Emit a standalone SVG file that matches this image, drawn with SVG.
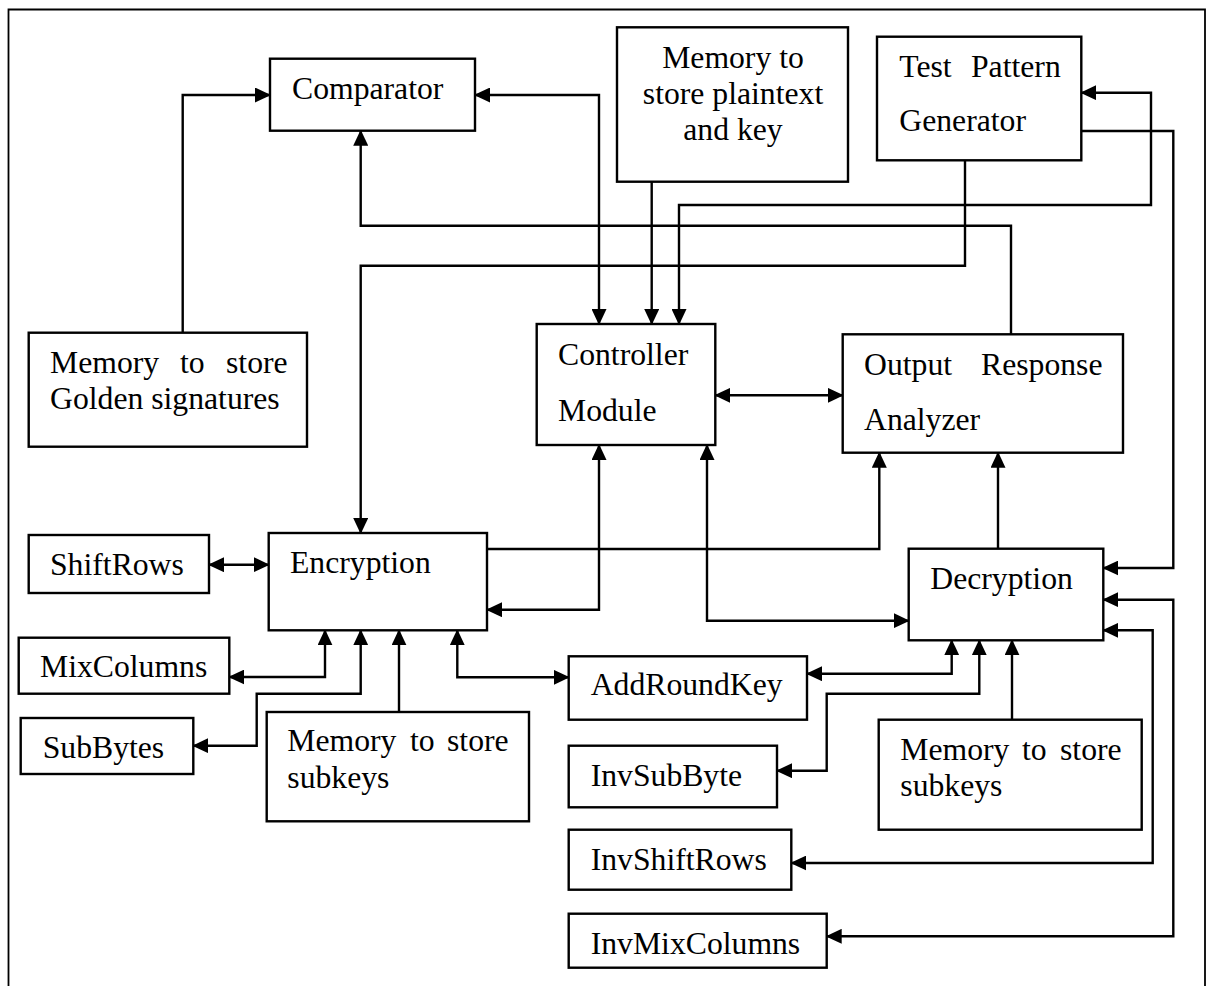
<svg xmlns="http://www.w3.org/2000/svg" width="1209" height="986" viewBox="0 0 1209 986">
<style>
.box{fill:#fff;stroke:#000;stroke-width:2.4}
.t{font-family:"Liberation Serif","Times New Roman",serif;font-size:31.7px;fill:#000}
.c{fill:none;stroke:#000;stroke-width:2.4}
.e{marker-end:url(#a)}
.b{marker-start:url(#a);marker-end:url(#a)}
</style>
<defs>
<marker id="a" viewBox="0 0 16 15" refX="15" refY="7.5" markerWidth="16" markerHeight="15" markerUnits="userSpaceOnUse" orient="auto-start-reverse">
<path d="M0,0 L16,7.5 L0,15 z" fill="#000"/>
</marker>
</defs>
<rect width="1209" height="986" fill="#fff"/>
<path d="M8.5,986 V9.5 H1205 V986" fill="none" stroke="#000" stroke-width="1.8"/>

<g id="connectors">
<path class="c e" d="M182.7,332.7 V95 H270"/>
<path class="c b" d="M475,95 H599 V324"/>
<path class="c e" d="M1011,334.3 V225.7 H360.7 V130.7"/>
<path class="c e" d="M965,160.3 V265.7 H360.7 V533"/>
<path class="c e" d="M651.7,181.7 V324"/>
<path class="c b" d="M1081.3,92.7 H1151 V205 H679 V324"/>
<path class="c b" d="M715.3,395.3 H842.7"/>
<path class="c e" d="M1081.3,131 H1173.3 V568 H1103.3"/>
<path class="c e" d="M487,549 H879.3 V452.7"/>
<path class="c e" d="M998,548.7 V452.7"/>
<path class="c b" d="M599,445 V609.7 H487"/>
<path class="c b" d="M707,445 V620.7 H908.7"/>
<path class="c b" d="M209,564.7 H268.7"/>
<path class="c b" d="M325,630.3 V677 H229.3"/>
<path class="c b" d="M360.7,630.3 V693.7 H256.7 V745.7 H193.3"/>
<path class="c e" d="M399,712 V630.3"/>
<path class="c b" d="M457.3,630.3 V677.3 H568.7"/>
<path class="c b" d="M951.7,640.3 V673.7 H807"/>
<path class="c b" d="M979.3,640.3 V693.7 H826.7 V770.7 H777"/>
<path class="c e" d="M1012,719.7 V640.3"/>
<path class="c b" d="M1103.3,599.7 H1173.3 V936.3 H826.7"/>
<path class="c b" d="M1103.3,630.3 H1152.7 V863 H791.3"/>
</g>

<g id="comparator">
<rect class="box" x="270" y="58.7" width="205" height="72"/>
<text class="t" x="292" y="99">Comparator</text>
</g>
<g id="mem-plaintext">
<rect class="box" x="617" y="27.3" width="231" height="154.4"/>
<text class="t" text-anchor="middle"><tspan x="733" y="68.3">Memory to</tspan><tspan x="733" y="104.3">store plaintext</tspan><tspan x="733" y="140">and key</tspan></text>
</g>
<g id="tpg">
<rect class="box" x="877" y="36.7" width="204.3" height="123.6"/>
<text class="t"><tspan x="899.3" y="76.7">Test</tspan><tspan x="971" y="76.7">Pattern</tspan><tspan x="899.3" y="131">Generator</tspan></text>
</g>
<g id="mem-golden">
<rect class="box" x="28.7" y="332.7" width="278.3" height="114"/>
<text class="t"><tspan x="50" y="373.3">Memory</tspan><tspan x="180" y="373.3">to</tspan><tspan x="226" y="373.3">store</tspan><tspan x="50" y="409.3">Golden signatures</tspan></text>
</g>
<g id="controller">
<rect class="box" x="536.7" y="324" width="178.6" height="121"/>
<text class="t"><tspan x="558" y="365">Controller</tspan><tspan x="558" y="420.7">Module</tspan></text>
</g>
<g id="ora">
<rect class="box" x="842.7" y="334.3" width="280.3" height="118.4"/>
<text class="t"><tspan x="864" y="375">Output</tspan><tspan x="981" y="375">Response</tspan><tspan x="864" y="430">Analyzer</tspan></text>
</g>
<g id="shiftrows">
<rect class="box" x="28.7" y="535" width="180.3" height="58"/>
<text class="t" x="50" y="574.7">ShiftRows</text>
</g>
<g id="encryption">
<rect class="box" x="268.7" y="533" width="218.3" height="97.3"/>
<text class="t" x="290" y="573">Encryption</text>
</g>
<g id="decryption">
<rect class="box" x="908.7" y="548.7" width="194.6" height="91.6"/>
<text class="t" x="930.3" y="589">Decryption</text>
</g>
<g id="mixcolumns">
<rect class="box" x="18.7" y="637.7" width="210.6" height="56"/>
<text class="t" x="40" y="677.3">MixColumns</text>
</g>
<g id="subbytes">
<rect class="box" x="20.7" y="718" width="172.6" height="56"/>
<text class="t" x="42.7" y="758">SubBytes</text>
</g>
<g id="mem-subkeys-enc">
<rect class="box" x="266.7" y="712" width="262.3" height="109.3"/>
<text class="t"><tspan x="287.3" y="751.3">Memory</tspan><tspan x="410" y="751.3">to</tspan><tspan x="447" y="751.3">store</tspan><tspan x="287.3" y="788">subkeys</tspan></text>
</g>
<g id="addroundkey">
<rect class="box" x="568.7" y="656.3" width="238.3" height="63.4"/>
<text class="t" x="590.7" y="694.7">AddRoundKey</text>
</g>
<g id="invsubbyte">
<rect class="box" x="568.7" y="745.7" width="208.3" height="61.6"/>
<text class="t" x="590.7" y="785.7">InvSubByte</text>
</g>
<g id="invshiftrows">
<rect class="box" x="568.7" y="829.7" width="222.6" height="60"/>
<text class="t" x="590.7" y="869.7">InvShiftRows</text>
</g>
<g id="invmixcolumns">
<rect class="box" x="568.7" y="913.7" width="258" height="54"/>
<text class="t" x="590.7" y="954">InvMixColumns</text>
</g>
<g id="mem-subkeys-dec">
<rect class="box" x="878.7" y="719.7" width="263" height="110"/>
<text class="t"><tspan x="900.3" y="759.7">Memory</tspan><tspan x="1022" y="759.7">to</tspan><tspan x="1060" y="759.7">store</tspan><tspan x="900.3" y="796.3">subkeys</tspan></text>
</g>
</svg>
